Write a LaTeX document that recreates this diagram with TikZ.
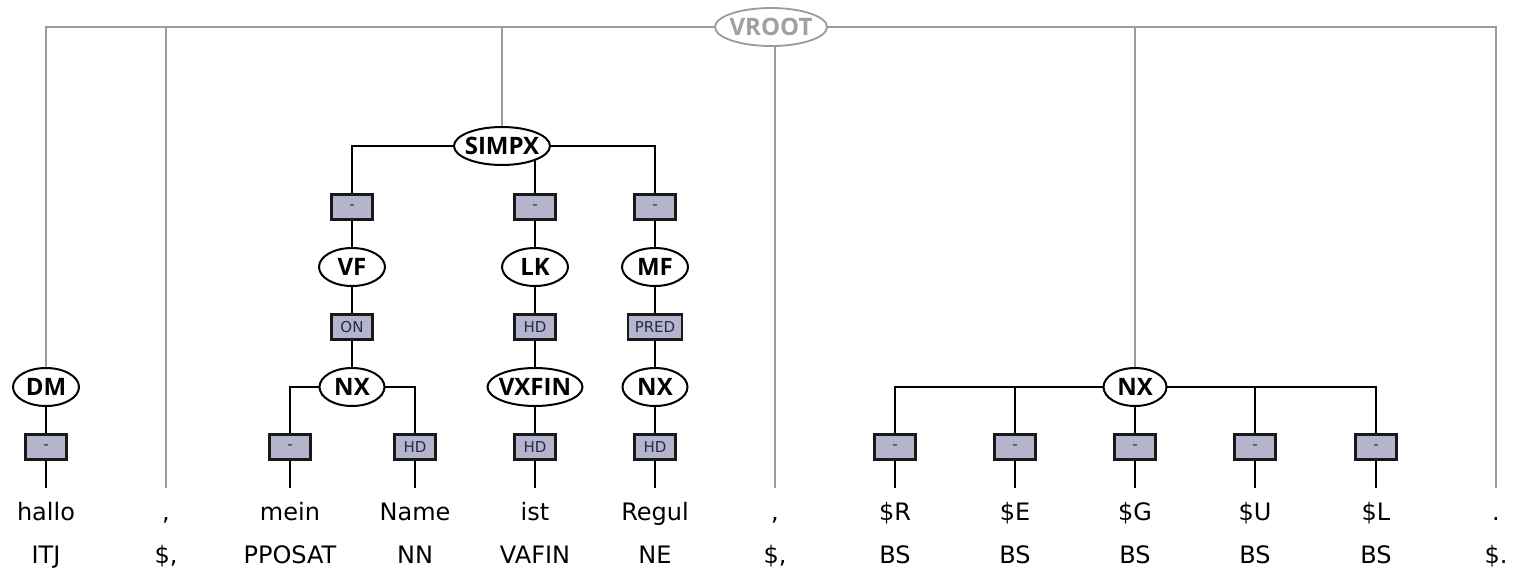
\documentclass[tikz,border=0pt]{standalone}
\usepackage{fontspec}
\setmainfont{DejaVu Sans}
\newfontfamily\catfont{Open Sans}
\usetikzlibrary{shapes.geometric}
\pgfdeclarelayer{bg}
\pgfsetlayers{bg,main}
\definecolor{boxfill}{RGB}{180,180,204}
\definecolor{boxtext}{RGB}{40,40,72}
\definecolor{rootline}{RGB}{155,155,155}
\definecolor{roottext}{RGB}{160,160,160}
\newcommand\mklab[1]{\makebox[0pt]{#1}}
\tikzset{
  cat/.style={ellipse, draw=black, line width=2pt, fill=white, inner sep=0pt,
    minimum height=38pt, font=\catfont\bfseries\fontsize{24}{28}\selectfont},
  rootcat/.style={ellipse, draw=rootline, line width=1.8pt, fill=white, inner sep=0pt,
    minimum height=38pt, minimum width=112pt, text=roottext,
    font=\catfont\bfseries\fontsize{24}{28}\selectfont},
  edgelab/.style={rectangle, draw=black!90, line width=2.4pt, fill=boxfill, text=boxtext,
    inner xsep=7pt, inner ysep=0pt, minimum width=41pt, minimum height=25pt,
    font=\fontsize{15}{17}\selectfont},
  word/.style={anchor=base, inner sep=0pt, font=\fontsize{24}{28}\selectfont},
  tree/.style={line width=1.8pt, black},
  rootln/.style={line width=1.8pt, rootline},
}
\begin{document}
\begin{tikzpicture}[x=1pt, y=-1pt]
\useasboundingbox (0,0) rectangle (1517,570);

% root
\node[rootcat] (vroot) at (771,27) {\mklab{VROOT}};

% SIMPX subtree
\node[cat, minimum width=96pt] (simpx) at (502,146) {\mklab{SIMPX}};
\node[edgelab] (l1) at (352,207) {-};
\node[edgelab] (l2) at (535,207) {-};
\node[edgelab] (l3) at (655,207) {-};
\node[cat, minimum width=66pt] (vf) at (352,267) {\mklab{VF}};
\node[cat, minimum width=66pt] (lk) at (535,267) {\mklab{LK}};
\node[cat, minimum width=66pt] (mf) at (655,267) {\mklab{MF}};
\node[edgelab] (l4) at (352,327) {ON};
\node[edgelab] (l5) at (535,327) {HD};
\node[edgelab] (l6) at (655,327) {PRED};
\node[cat, minimum width=65pt] (nx1) at (352,387) {\mklab{NX}};
\node[cat, minimum width=95pt] (vxfin) at (535,387) {\mklab{VXFIN}};
\node[cat, minimum width=65pt] (nx2) at (655,387) {\mklab{NX}};
\node[edgelab] (l7) at (290,447) {-};
\node[edgelab] (l8) at (415,447) {HD};
\node[edgelab] (l9) at (535,447) {HD};
\node[edgelab] (l10) at (655,447) {HD};

% DM
\node[cat, minimum width=66pt] (dm) at (46,387) {\mklab{DM}};
\node[edgelab] (l0) at (46,447) {-};

% right NX
\node[cat, minimum width=63pt] (nx3) at (1135,387) {\mklab{NX}};
\node[edgelab] (r1) at (895,447) {-};
\node[edgelab] (r2) at (1015,447) {-};
\node[edgelab] (r3) at (1135,447) {-};
\node[edgelab] (r4) at (1255,447) {-};
\node[edgelab] (r5) at (1376,447) {-};

% line ends above words
\coordinate (e1) at (46,488);
\coordinate (e2) at (166,488);
\coordinate (e3) at (290,488);
\coordinate (e4) at (415,488);
\coordinate (e5) at (535,488);
\coordinate (e6) at (655,488);
\coordinate (e7) at (775,488);
\coordinate (e8) at (895,488);
\coordinate (e9) at (1015,488);
\coordinate (e10) at (1135,488);
\coordinate (e11) at (1255,488);
\coordinate (e12) at (1376,488);
\coordinate (e13) at (1496,488);

% words
\node[word] (w1) at (46,520) {hallo};
\node[word] (w2) at (166,520) {,};
\node[word] (w3) at (290,520) {mein};
\node[word] (w4) at (415,520) {Name};
\node[word] (w5) at (535,520) {ist};
\node[word] (w6) at (655,520) {Regul};
\node[word] (w7) at (775,520) {,};
\node[word] (w8) at (895,520) {\$R};
\node[word] (w9) at (1015,520) {\$E};
\node[word] (w10) at (1135,520) {\$G};
\node[word] (w11) at (1255,520) {\$U};
\node[word] (w12) at (1376,520) {\$L};
\node[word] (w13) at (1496,520) {.};

% tags
\node[word] (t1) at (46,563) {ITJ};
\node[word] (t2) at (166,563) {\$,};
\node[word] (t3) at (290,563) {PPOSAT};
\node[word] (t4) at (415,563) {NN};
\node[word] (t5) at (535,563) {VAFIN};
\node[word] (t6) at (655,563) {NE};
\node[word] (t7) at (775,563) {\$,};
\node[word] (t8) at (895,563) {BS};
\node[word] (t9) at (1015,563) {BS};
\node[word] (t10) at (1135,563) {BS};
\node[word] (t11) at (1255,563) {BS};
\node[word] (t12) at (1376,563) {BS};
\node[word] (t13) at (1496,563) {\$.};

\begin{pgfonlayer}{bg}
  % root connectors
  \draw[rootln] (vroot.center) -| (dm.center);
  \draw[rootln] (vroot.center) -| (e2);
  \draw[rootln] (vroot.center) -| (simpx.center);
  \draw[rootln] (vroot.center) -| (e7);
  \draw[rootln] (vroot.center) -| (nx3.center);
  \draw[rootln] (vroot.center) -| (e13);
  % DM
  \draw[tree] (dm.center) -- (l0.center) -- (e1);
  % SIMPX
  \draw[tree] (simpx.center) -| (l1.center);
  \draw[tree] (simpx.center) -| (l2.center);
  \draw[tree] (simpx.center) -| (l3.center);
  \draw[tree] (l1.center) -- (vf.center) -- (l4.center) -- (nx1.center);
  \draw[tree] (nx1.center) -| (l7.center);
  \draw[tree] (nx1.center) -| (l8.center);
  \draw[tree] (l7.center) -- (e3);
  \draw[tree] (l8.center) -- (e4);
  \draw[tree] (l2.center) -- (lk.center) -- (l5.center) -- (vxfin.center) -- (l9.center) -- (e5);
  \draw[tree] (l3.center) -- (mf.center) -- (l6.center) -- (nx2.center) -- (l10.center) -- (e6);
  % right NX
  \draw[tree] (nx3.center) -| (r1.center);
  \draw[tree] (nx3.center) -| (r2.center);
  \draw[tree] (nx3.center) -- (r3.center);
  \draw[tree] (nx3.center) -| (r4.center);
  \draw[tree] (nx3.center) -| (r5.center);
  \draw[tree] (r1.center) -- (e8);
  \draw[tree] (r2.center) -- (e9);
  \draw[tree] (r3.center) -- (e10);
  \draw[tree] (r4.center) -- (e11);
  \draw[tree] (r5.center) -- (e12);
\end{pgfonlayer}
\end{tikzpicture}
\end{document}
